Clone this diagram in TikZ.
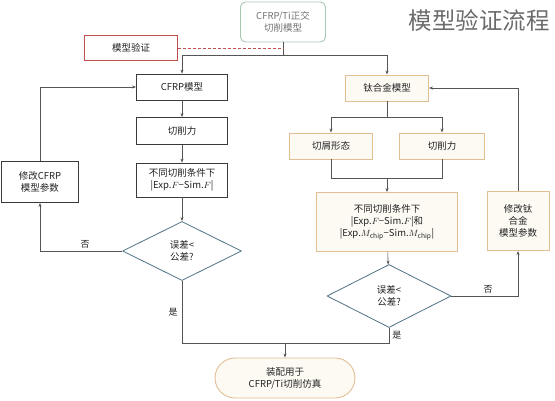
\documentclass[tikz,border=0pt]{standalone}
\usepackage{fontspec}
\setmainfont{Noto Sans CJK SC}
\newfontfamily\titlefont{Noto Sans CJK SC}
\usetikzlibrary{shapes.geometric,arrows.meta,calc}
\definecolor{linec}{HTML}{555555}
\definecolor{leftb}{HTML}{3A3A3A}
\definecolor{rightb}{HTML}{E2BE95}
\definecolor{rightf}{HTML}{FDFAF4}
\definecolor{topb}{HTML}{A9C8B4}
\definecolor{redb}{HTML}{C0504D}
\definecolor{diab}{HTML}{4E7385}
\definecolor{txt}{HTML}{222222}
\tikzset{
  every node/.style={font=\fontsize{9.5}{12}\selectfont, text=txt, align=center, inner sep=1pt},
  lbox/.style={draw=leftb, line width=0.8pt, fill=white, minimum width=#1, minimum height=26pt},
  rbox/.style={draw=rightb, line width=0.9pt, fill=rightf, minimum width=#1, minimum height=26pt},
  dia/.style={diamond, aspect=2, draw=diab, line width=0.8pt, fill=white, inner sep=0pt},
  conn/.style={draw=linec, line width=0.6pt},
  arr/.style={conn, -{Stealth[length=4pt,width=3pt]}},
  lab/.style={font=\fontsize{9}{10}\selectfont}
}
\begin{document}
\begin{tikzpicture}[x=1pt,y=-1pt]
\useasboundingbox (0,0) rectangle (555,400);
% title
\node[font=\titlefont\fontsize{23.5}{26}\selectfont, text=black!58] (title) at (479,20) {模型验证流程};
% nodes
\node[draw=topb, line width=0.9pt, rounded corners=5pt, fill=white, minimum width=85pt, minimum height=40pt, text=black!55] (top) at (283,22) {CFRP/Ti正交\\切削模型};
\node[draw=redb, line width=0.9pt, fill=white, minimum width=93pt, minimum height=25pt] (verify) at (131,48) {模型验证};
\node[lbox=91pt] (cfrp) at (182,87) {CFRP模型};
\node[lbox=91pt, minimum height=27pt] (force1) at (182,131) {切削力};
\node[lbox=91pt, minimum height=34pt] (cond1) at (182,180) {不同切削条件下\\|Exp.$F$−Sim.$F$|};
\node[dia, minimum width=119pt, minimum height=59pt] (dia1) at (182,251) {误差<\\公差?};
\node[lbox=77pt, minimum height=41pt] (mod1) at (40,182) {修改CFRP\\模型参数};
\node[rbox=83pt] (ti) at (387,88) {钛合金模型};
\node[rbox=83pt] (chip) at (331,146) {切屑形态};
\node[rbox=85pt] (force2) at (442,146) {切削力};
\node[rbox=141pt, minimum height=59pt] (cond2) at (387,222) {不同切削条件下\\|Exp.$F$−Sim.$F$|和\\|Exp.$M_{\mathrm{chip}}$−Sim.$M_{\mathrm{chip}}$|};
\node[dia, minimum width=124pt, minimum height=63pt] (dia2) at (389,296) {误差<\\公差?};
\node[rbox=62pt, minimum height=59pt] (mod2) at (518,221) {修改钛\\合金\\模型参数};
\node[draw=rightb, line width=0.9pt, fill=rightf, rounded corners=20pt, minimum width=140pt, minimum height=40pt] (end) at (285,378) {装配用于\\CFRP/Ti切削仿真};
% coordinates
\coordinate (j0) at (283,55);
\coordinate (jl) at (182,55);
\coordinate (jr) at (387,55);
\coordinate (t1) at (387,117);
\coordinate (t1l) at (331,117);
\coordinate (t1r) at (442,117);
\coordinate (b1l) at (331,178);
\coordinate (b1r) at (442,178);
\coordinate (b1) at (387,178);
\coordinate (m1) at (285,343);
% connectors
\draw[conn] (top.south) -- (j0);
\draw[arr] (j0) -- (jl) -- (cfrp.north);
\draw[arr] (j0) -- (jr) -- (ti.north);
\draw[draw=redb, line width=0.7pt, dash pattern=on 3pt off 2pt] (verify.east) -- (verify.east -| top.south);
\draw[arr] (cfrp) -- (force1);
\draw[arr] (force1) -- (cond1);
\draw[arr] (cond1) -- (dia1);
\draw[arr] (dia1.west) -- node[lab, above, pos=0.45, yshift=1pt] {否} (dia1.west -| mod1.south) -- (mod1.south);
\draw[arr] (mod1.north) |- (cfrp.west);
\draw[conn] (ti.south) -- (t1);
\draw[arr] (t1l) -- (chip.north);
\draw[arr] (t1r) -- (force2.north);
\draw[conn] (t1l) -- (t1r);
\draw[conn] (chip.south) -- (b1l) -- (b1r) -- (force2.south);
\draw[arr] (b1) -- (cond2.north);
\draw[arr] (cond2) -- (dia2);
\draw[arr] (dia2.east) -- node[lab, above, pos=0.55, yshift=1pt] {否} (dia2.east -| mod2.south) -- (mod2.south);
\draw[arr] (mod2.north) |- (ti.east);
\draw[conn] (dia1.south) -- node[lab, left, pos=0.5, xshift=-3pt] {是} (dia1.south |- m1) -- (dia2.south |- m1) -- node[lab, right, pos=0.5, xshift=2pt] {是} (dia2.south);
\draw[arr] (m1) -- (end.north);
\end{tikzpicture}
\end{document}
